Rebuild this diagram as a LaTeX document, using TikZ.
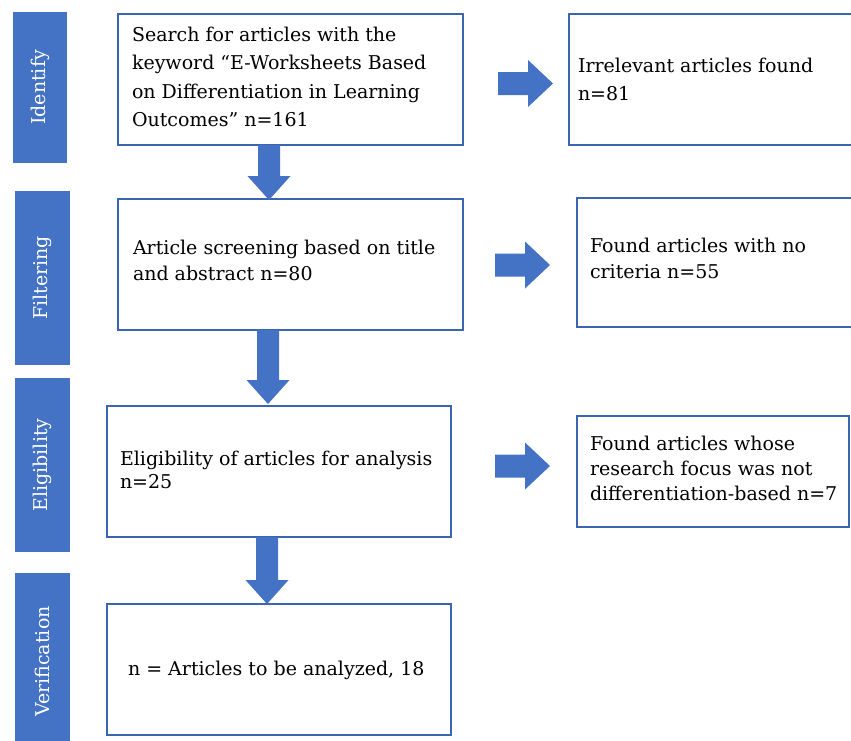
\documentclass[tikz,border=0pt]{standalone}
\usepackage{fontspec}
\setmainfont{DejaVu Serif}
\definecolor{barblue}{HTML}{4472C4}
\definecolor{edgeblue}{HTML}{3B65B0}
\newcommand\darr[3]{\fill[barblue] (#1-11,#2) -- (#1+11,#2) -- (#1+11,#3-24) -- (#1+21.5,#3-24) -- (#1,#3) -- (#1-21.5,#3-24) -- (#1-11,#3-24) -- cycle;}
\newcommand\rarr[3]{\fill[barblue] (#2,#1-11.5) -- (#3-25,#1-11.5) -- (#3-25,#1-23.5) -- (#3,#1) -- (#3-25,#1+23.5) -- (#3-25,#1+11.5) -- (#2,#1+11.5) -- cycle;}
\tikzset{
  bar/.style={fill=barblue, draw=none, rotate=90, text=white, inner sep=0, outer sep=0, font=\fontsize{19}{21}\selectfont},
  box/.style={draw=edgeblue, line width=1.8pt, fill=white, inner sep=0, outer sep=0, anchor=north west},
  txt/.style={anchor=north west, align=left, inner sep=0, outer sep=0, text=black}
}
\begin{document}
\begin{tikzpicture}[x=1pt,y=-1pt]
\useasboundingbox (0,0) rectangle (851,740);
\begin{scope}
\clip (0,0) rectangle (851,740);
% side bars
\node[bar, minimum width=151pt, minimum height=54pt] (s1) at (40,87.5) {Identify};
\node[bar, minimum width=174pt, minimum height=55pt] (s2) at (42.5,278) {Filtering};
\node[bar, minimum width=174pt, minimum height=55pt] (s3) at (42.5,465) {Eligibility};
\node[bar, minimum width=177pt, minimum height=55pt] (s4) at (42.5,661.5) {Verification};
% main boxes
\node[box, minimum width=345pt, minimum height=131pt] (b1) at (118,14) {};
\node[box, minimum width=345pt, minimum height=131pt] (b2) at (118,199) {};
\node[box, minimum width=344pt, minimum height=131pt] (b3) at (107,406) {};
\node[box, minimum width=344pt, minimum height=131pt] (b4) at (107,604) {};
% right boxes
\node[box, minimum width=300pt, minimum height=131pt] (r1) at (569,14) {};
\node[box, minimum width=300pt, minimum height=129pt] (r2) at (577,198) {};
\node[box, minimum width=272pt, minimum height=111pt] (r3) at (577,416) {};
% texts (y = first baseline - 14.4)
\node[txt, font=\fontsize{19}{28.5}\selectfont] (t1) at (132,26.6) {Search for articles with the\\keyword “E-Worksheets Based\\on Differentiation in Learning\\Outcomes” n=161};
\node[txt, font=\fontsize{19}{26}\selectfont] (t2) at (133,239.6) {Article screening based on title\\and abstract n=80};
\node[txt, font=\fontsize{19}{23.5}\selectfont] (t3) at (120,450.6) {Eligibility of articles for analysis\\n=25};
\node[txt, font=\fontsize{19}{26}\selectfont] (t4) at (128,660.6) {n = Articles to be analyzed, 18};
\node[txt, font=\fontsize{19}{28}\selectfont] (u1) at (578,57.6) {Irrelevant articles found\\n=81};
\node[txt, font=\fontsize{19}{26}\selectfont] (u2) at (590,237.6) {Found articles with no\\criteria n=55};
\node[txt, font=\fontsize{19}{25}\selectfont] (u3) at (590,435.6) {Found articles whose\\research focus was not\\differentiation-based n=7};
% down arrows
\darr{269}{145}{200}
\darr{268}{330}{404}
\darr{267}{537}{604}
% right arrows
\rarr{83.5}{498}{553}
\rarr{265}{495}{550}
\rarr{466}{495}{550}
\end{scope}
\end{tikzpicture}
\end{document}
